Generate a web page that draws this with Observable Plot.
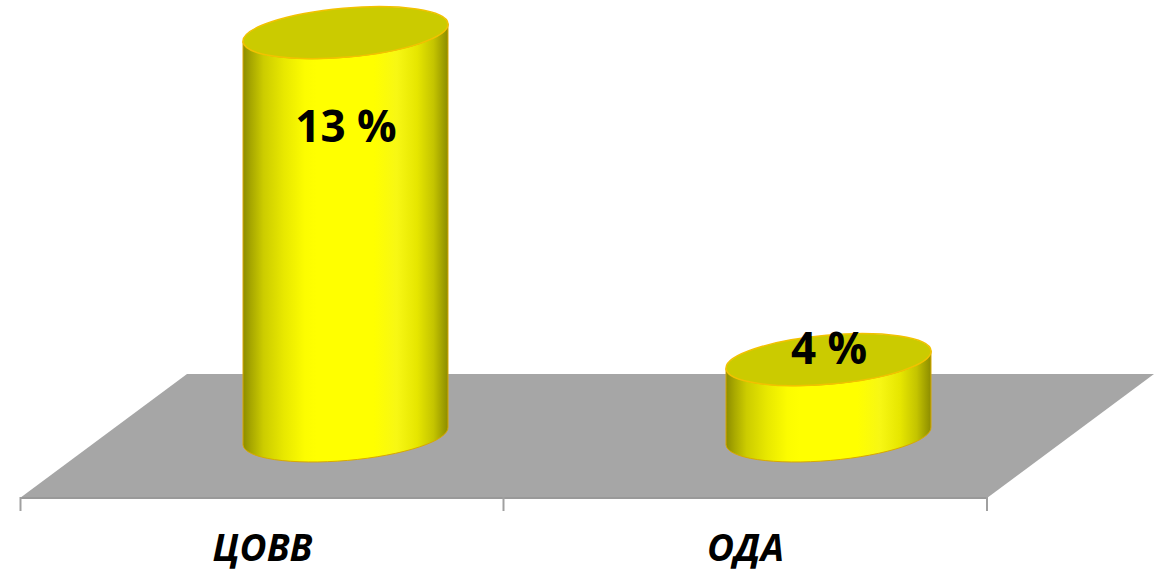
<!DOCTYPE html>
<html>
<head>
<meta charset="utf-8">
<script src="https://cdn.jsdelivr.net/npm/d3@7"></script>
<script src="https://cdn.jsdelivr.net/npm/@observablehq/plot@0.6"></script>
<style>
  html, body { margin: 0; padding: 0; background: #ffffff; }
  #chart svg { display: block; }
</style>
</head>
<body>
<div id="chart"></div>
<script>
// ---- data ----
const categories = ["ЦОВВ", "ОДА"];
const values = [13, 4];
const valueLabels = ["13 %", "4 %"];
const yDomain = [1.9, 13.9];

const data = categories.map((c, i) => ({cat: c, value: values[i], label: valueLabels[i]}));

// ---- 3D look ----
const DX = 83.5, DY = 62;          // half depth offset of the floor
const RADIUS_FRAC = 0.213;         // cylinder radius as fraction of bandwidth
const RY = 24.5;                   // ellipse minor radius (px)
const TILT = -5;                   // ellipse tilt (deg)

const bw = s => (typeof s.bandwidth === "function" ? s.bandwidth() : s.bandwidth);

function floorMark(index, scales) {
  const {x, y} = scales;
  const [x0, x1] = x.range();
  const y0 = y(yDomain[0]);
  const g = d3.create("svg:g");
  const pts = [[x0 - DX, y0 + DY], [x1 - DX, y0 + DY], [x1 + DX, y0 - DY], [x0 + DX, y0 - DY]];
  g.append("path").attr("d", "M" + pts.join("L") + "Z").attr("fill", "#a6a6a6");
  g.append("line")
    .attr("x1", x0 - DX).attr("x2", x1 - DX)
    .attr("y1", y0 + DY).attr("y2", y0 + DY)
    .attr("stroke", "#999999").attr("stroke-width", 2);
  const bounds = [...categories.map(c => x(c)), x1];
  for (const b of bounds) {
    g.append("line")
      .attr("x1", b - DX).attr("x2", b - DX)
      .attr("y1", y0 + DY - 1).attr("y2", y0 + DY + 13)
      .attr("stroke", "#a0a0a0").attr("stroke-width", 2);
  }
  return g.node();
}

function cylinderMark(index, scales) {
  const {x, y} = scales;
  const w = bw(x);
  const a = RADIUS_FRAC * w;
  const t = TILT * Math.PI / 180;
  const ex = a * Math.cos(t), ey = a * Math.sin(t);
  const g = d3.create("svg:g");
  const defs = g.append("defs");
  const grad = defs.append("linearGradient").attr("id", "cylSide")
    .attr("x1", "0").attr("x2", "1").attr("y1", "0").attr("y2", "0");
  const stops = [
    [0, "#8c8c00"], [0.04, "#a8a800"], [0.10, "#cccc00"], [0.20, "#e8e800"],
    [0.30, "#fcfc00"], [0.36, "#ffff00"], [0.64, "#ffff00"], [0.75, "#f7f714"],
    [0.85, "#e6e600"], [0.93, "#c4c400"], [1, "#8c8c00"]
  ];
  for (const [o, c] of stops) grad.append("stop").attr("offset", o).attr("stop-color", c);

  const yb = y(yDomain[0]);
  for (const d of data) {
    const cx = x(d.cat) + w / 2;
    const yt = y(d.value);
    const side = `M${cx - ex},${yt - ey} L${cx - ex},${yb - ey} ` +
      `A${a},${RY} ${TILT} 0 0 ${cx + ex},${yb + ey} ` +
      `L${cx + ex},${yt + ey} A${a},${RY} ${TILT} 0 1 ${cx - ex},${yt - ey} Z`;
    g.append("path").attr("d", side)
      .attr("fill", "url(#cylSide)")
      .attr("stroke", "#d9a800").attr("stroke-width", 1);
    g.append("ellipse")
      .attr("cx", cx).attr("cy", yt).attr("rx", a).attr("ry", RY)
      .attr("transform", `rotate(${TILT} ${cx} ${yt})`)
      .attr("fill", "#cbcb00")
      .attr("stroke", "#f2c200").attr("stroke-width", 1.5);
  }
  return g.node();
}

const chart = Plot.plot({
  width: 1161,
  height: 570,
  marginLeft: 103.5,
  marginRight: 90.5,
  marginTop: 0,
  marginBottom: 134,
  x: {type: "band", domain: categories, padding: 0, axis: null},
  y: {domain: yDomain, axis: null},
  marks: [
    floorMark,
    cylinderMark,
    Plot.text(data, {
      filter: d => d.value >= 8,
      x: "cat", y: "value", text: "label",
      dy: 95, fontSize: 44, fontWeight: "bold",
      fontFamily: "Open Sans", fill: "#000000"
    }),
    Plot.text(data, {
      filter: d => d.value < 8,
      x: "cat", y: "value", text: "label",
      dy: -10, fontSize: 44, fontWeight: "bold",
      fontFamily: "Open Sans", fill: "#000000"
    }),
    Plot.text(categories, {
      x: d => d, frameAnchor: "bottom",
      dx: -DX, dy: 124,
      fontSize: 37, fontWeight: "bold", fontStyle: "italic",
      fontFamily: "Open Sans", fill: "#000000"
    })
  ]
});
document.getElementById("chart").appendChild(chart);
</script>
</body>
</html>
